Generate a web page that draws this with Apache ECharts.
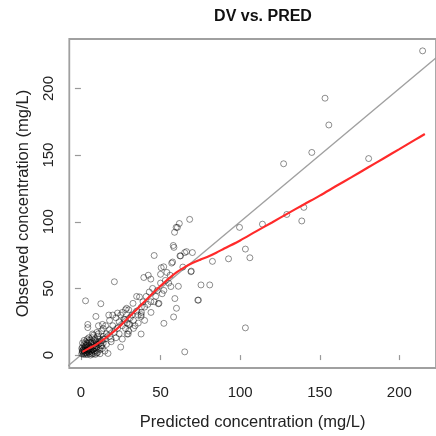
<!DOCTYPE html>
<html>
<head>
<meta charset="utf-8">
<script src="https://cdn.jsdelivr.net/npm/echarts@6/dist/echarts.min.js"></script>
<style>html,body{margin:0;padding:0;background:#fff}#c{width:436px;height:436px}</style>
</head>
<body>
<div id="c"></div>
<script>
var chartTitle = 'DV vs. PRED';
var xTitle = 'Predicted concentration (mg/L)';
var yTitle = 'Observed concentration (mg/L)';
var xTicks = [0, 50, 100, 150, 200];
var yTicks = [0, 50, 100, 150, 200];

// observed points: [predicted, observed]
var points = [
[0.5,1],[1,2],[1.5,0.5],[2,3],[2,1],[2.5,4],[3,2],[3,5],[3.5,1.5],[4,3],[4,6],[4.5,2],[5,4],[5,7],[5.5,1],[6,3],[6,5],[6.5,8],[7,2],[7,6],[7.5,4],[8,9],[8,1],[8.5,5],[9,7],[9.5,3],[10,10],[10,6],[10.5,2],[11,8],[11.5,12],[12,4],[12,9],[1,6],[2,8],[3,10],[4,12],[1.5,4],[0.8,3],[2.5,6],[3.5,7.5],[5,9.5],[6,11],[7,13],[9,11],[11,5],[13,7],[13,11],[14,9],[14,14],[0.5,5],[1,9],[6,0],[4,0.5],[9,0.5],[12,1],[15,3],
[1,3.5],[1.8,5],[2.2,2],[2.8,7],[3.2,3.5],[3.8,9],[4.2,4.5],[4.8,11],[5.2,2.5],[5.8,6],[6.2,9.5],[6.8,4],[7.2,10],[7.8,7],[8.2,3],[8.8,12],[9.2,5.5],[9.8,8.5],[10.5,14],[11.2,10],[12.5,7],[13.5,5],[3,0.5],[7,0.8],[10,1.5],[2,11],[5,13],[8,15],[11,16],[14,12],
[15,12],[16,16],[17,1.2],[17.5,30],[18,14],[18,19],[19,10],[20,22],[20,30],[21,55],[21,17],[22,13],[23,31.5],[23,20],[24,25],[24,16],[25,6],[25,30],[26,22],[26,12],[27,27],[28,34],[28,20],[29,15.8],[29,24],[30,34],[30,23],[30,18],[13,18],[13.5,23],[14,20],[15.5,22],[11,22],[9.4,29],[12.5,38.5],[2.9,40.7],[4.3,23],[7.3,15.8],[4.3,20.6],[10,17],[18,26],[22,28],[19,12],[16,8],
[31,28],[32,30],[32.7,38.8],[33,26],[34,22],[35,33],[35,44],[36,30],[36.8,43.6],[37.8,30.3],[37.8,29],[37.8,15.8],[38,36],[38,32],[39,40],[39.5,58.2],[40,36],[40,26],[41,44],[42,38],[42.3,59.9],[42.9,47.3],[43.9,57],[43.9,40],[44,32],[45,50],[46,40],[46,74.7],[47,44],[48,48.5],[48.6,38.5],[49,38.8],[50,54],[50,60.6],[50.4,65.5],[51,46],[52,66.2],[52.1,48.5],[52.1,23.8],[53,56],[54,62],[55.1,54],[56,59.9],[56.5,51.4],[57,69],[57.6,69.8],[58,82.2],[58.4,80.8],[58.8,92.1],[58.2,28.6],[59,42.4],[59.8,95.8],[60,35.1],[60.6,95.8],[61.2,51.6],[29.7,15.8],[27.7,26.7],[30.7,23],[33,20],[36,24],[28.7,35.1],[26,32],
[61.8,98.7],[62.2,74.4],[62.6,74.4],[64,66],[65.2,2.4],[65.2,76.9],[66.3,77.6],[68.3,101.8],[69.1,62.5],[69.3,63],[70,76.9],[73.4,41.2],[73.8,41.2],[75.4,52.6],[80.9,52.6],[82.6,70.3],[92.7,72.2],[99.6,95.8],[103.3,79.5],[106.1,73],[103.3,20.4],[114,98.2],[129.3,105.5],[138.7,100.6],[140,110.8],[127.3,143.5],[145,152],[153.3,192.7],[155.7,172.6],[180.7,147.4],[214.6,228.2]
];

// loess smooth
var smoothX = [1,5,10,15,20,25,30,35,40,45,50,55,60,65,70,75,80,85,90,100,110,120,130,140,150,160,170,180,190,200,210,216];
var smoothY = [2.4,5,8.2,12.3,17,22.3,28.3,34.2,40.2,46.2,51.8,57.2,62,65.8,69,71.6,74,76.8,79.9,86,92.8,99.5,106.3,113,119.6,126.6,133.5,140.5,147.5,154.5,161.6,165.8];

// identity line
var identity = [[-20,-20],[260,260]];

var font = "'Liberation Sans', Arial, sans-serif";
var chart = echarts.init(document.getElementById('c'), null, {renderer:'canvas'});
chart.setOption({
  animation: false,
  backgroundColor: '#fff',
  title: {text: chartTitle, left: 258, top: 4, textAlign: 'center',
    textStyle: {fontFamily: font, fontSize: 16, fontWeight: 'bold', color: '#111'}},
  grid: {left: 69.3, right: -11, top: 39, bottom: 57.7, show: true,
    borderColor: '#a0a0a0', borderWidth: 1.8, backgroundColor: 'transparent'},
  xAxis: {type: 'value', min: -7.3, max: 223,
    name: xTitle, nameLocation: 'middle', nameGap: 46,
    nameTextStyle: {fontFamily: font, fontSize: 16.5, color: '#222'},
    axisLine: {show: false}, splitLine: {show: false},
    axisTick: {show: true, length: 5, lineStyle: {color: '#999', width: 1.2}, customValues: xTicks},
    axisLabel: {fontFamily: font, fontSize: 15, color: '#222', margin: 17, customValues: xTicks}},
  yAxis: {type: 'value', min: -9.7, max: 237.1,
    name: yTitle, nameLocation: 'middle', nameGap: 37, nameRotate: 90,
    nameTextStyle: {fontFamily: font, fontSize: 16.5, color: '#222'},
    axisLine: {show: false}, splitLine: {show: false},
    axisTick: {show: true, length: 6, lineStyle: {color: '#999', width: 1.2}, customValues: yTicks},
    axisLabel: {fontFamily: font, fontSize: 15, color: '#222', margin: 13, rotate: 90, customValues: yTicks}},
  series: [
    {type: 'line', data: identity, showSymbol: false, clip: true, silent: true,
      lineStyle: {color: '#a0a0a0', width: 1.3}, z: 1},
    {type: 'scatter', data: points, symbol: 'circle', symbolSize: 6, clip: true,
      itemStyle: {color: 'rgba(0,0,0,0)', borderColor: 'rgba(0,0,0,0.55)', borderWidth: 1}, z: 2},
    {type: 'line', data: smoothX.map(function(x,i){return [x, smoothY[i]];}), showSymbol: false,
      smooth: 0.3, lineStyle: {color: '#ff2a2a', width: 2.2}, z: 3}
  ]
});
</script>
</body>
</html>
